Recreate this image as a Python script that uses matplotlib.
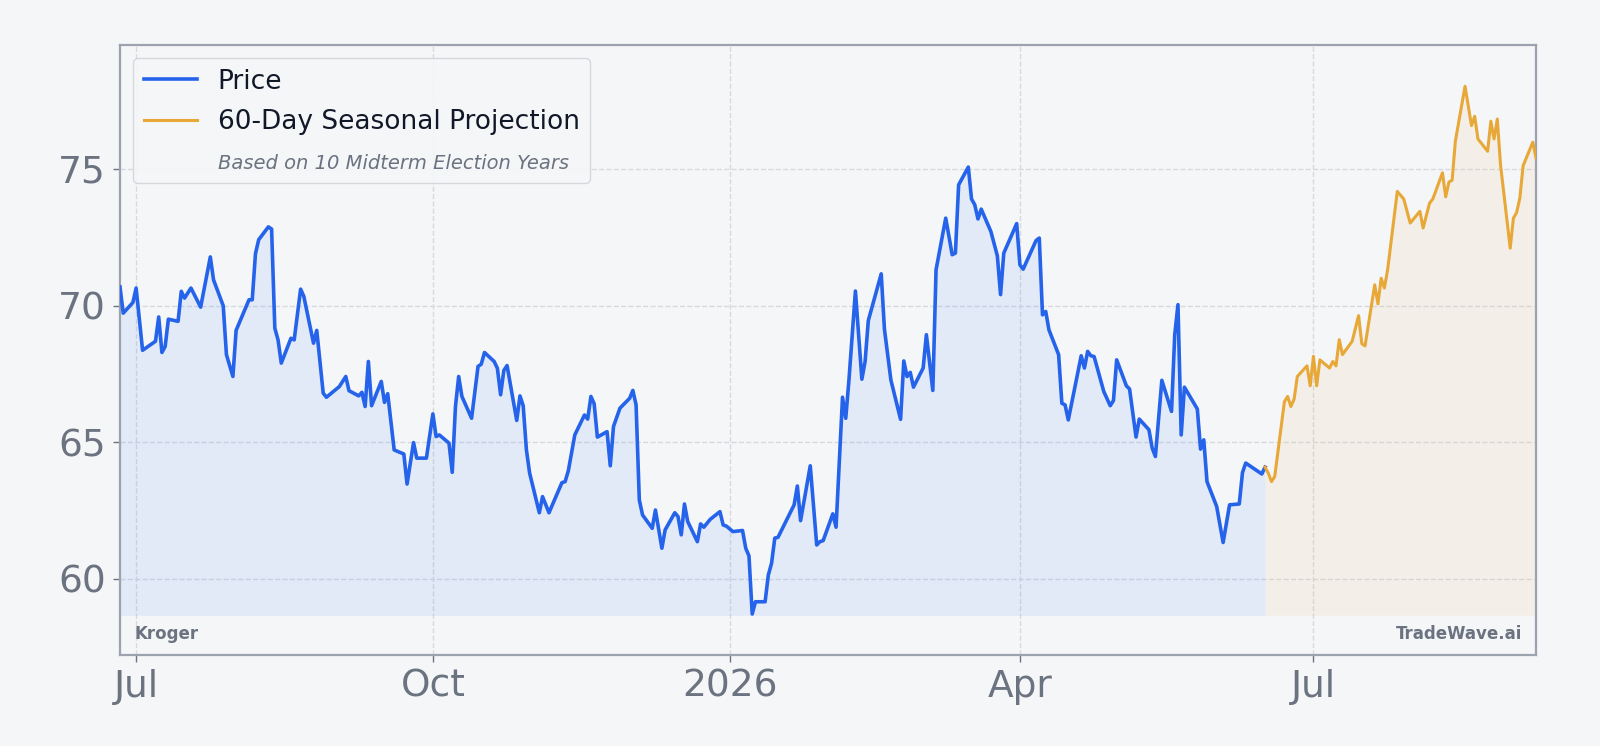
import matplotlib
matplotlib.use("Agg")
import matplotlib.pyplot as plt
import matplotlib.dates as mdates
from matplotlib.lines import Line2D
import pandas as pd

# price history
hist_dates = [
    "2025-06-26", "2025-06-27", "2025-06-30", "2025-07-01", "2025-07-03", "2025-07-07", "2025-07-08",
    "2025-07-09", "2025-07-10", "2025-07-11", "2025-07-14", "2025-07-15", "2025-07-16", "2025-07-18",
    "2025-07-21", "2025-07-24", "2025-07-25", "2025-07-28", "2025-07-29", "2025-07-31", "2025-08-01",
    "2025-08-05", "2025-08-06", "2025-08-07", "2025-08-08", "2025-08-11", "2025-08-12", "2025-08-13",
    "2025-08-14", "2025-08-15", "2025-08-18", "2025-08-19", "2025-08-21", "2025-08-22", "2025-08-25",
    "2025-08-26", "2025-08-28", "2025-08-29", "2025-09-02", "2025-09-04", "2025-09-05", "2025-09-08",
    "2025-09-09", "2025-09-10", "2025-09-11", "2025-09-12", "2025-09-15", "2025-09-16", "2025-09-17",
    "2025-09-19", "2025-09-22", "2025-09-23", "2025-09-25", "2025-09-26", "2025-09-29", "2025-10-01",
    "2025-10-02", "2025-10-03", "2025-10-06", "2025-10-07", "2025-10-08", "2025-10-09", "2025-10-10",
    "2025-10-13", "2025-10-15", "2025-10-16", "2025-10-17", "2025-10-20", "2025-10-21", "2025-10-22",
    "2025-10-23", "2025-10-24", "2025-10-27", "2025-10-28", "2025-10-29", "2025-10-30", "2025-10-31",
    "2025-11-03", "2025-11-04", "2025-11-06", "2025-11-10", "2025-11-11", "2025-11-12", "2025-11-14",
    "2025-11-17", "2025-11-18", "2025-11-19", "2025-11-20", "2025-11-21", "2025-11-24", "2025-11-25",
    "2025-11-26", "2025-11-28", "2025-12-01", "2025-12-02", "2025-12-03", "2025-12-04", "2025-12-05",
    "2025-12-08", "2025-12-09", "2025-12-11", "2025-12-12", "2025-12-15", "2025-12-16", "2025-12-17",
    "2025-12-18", "2025-12-19", "2025-12-22", "2025-12-23", "2025-12-24", "2025-12-26", "2025-12-29",
    "2025-12-30", "2025-12-31", "2026-01-02", "2026-01-05", "2026-01-06", "2026-01-07", "2026-01-08",
    "2026-01-09", "2026-01-12", "2026-01-13", "2026-01-14", "2026-01-15", "2026-01-16", "2026-01-21",
    "2026-01-22", "2026-01-23", "2026-01-26", "2026-01-28", "2026-01-29", "2026-01-30", "2026-02-02",
    "2026-02-03", "2026-02-04", "2026-02-05", "2026-02-06", "2026-02-07", "2026-02-09", "2026-02-11",
    "2026-02-12", "2026-02-13", "2026-02-17", "2026-02-18", "2026-02-20", "2026-02-23", "2026-02-24",
    "2026-02-25", "2026-02-26", "2026-02-27", "2026-03-02", "2026-03-03", "2026-03-05", "2026-03-06",
    "2026-03-09", "2026-03-11", "2026-03-12", "2026-03-13", "2026-03-16", "2026-03-17", "2026-03-18",
    "2026-03-19", "2026-03-20", "2026-03-23", "2026-03-25", "2026-03-26", "2026-03-27", "2026-03-31",
    "2026-04-01", "2026-04-02", "2026-04-06", "2026-04-07", "2026-04-08", "2026-04-09", "2026-04-10",
    "2026-04-13", "2026-04-14", "2026-04-15", "2026-04-16", "2026-04-20", "2026-04-21", "2026-04-22",
    "2026-04-23", "2026-04-24", "2026-04-27", "2026-04-29", "2026-04-30", "2026-05-01", "2026-05-04",
    "2026-05-05", "2026-05-07", "2026-05-08", "2026-05-11", "2026-05-12", "2026-05-13", "2026-05-15",
    "2026-05-18", "2026-05-19", "2026-05-20", "2026-05-21", "2026-05-22", "2026-05-26", "2026-05-27",
    "2026-05-28", "2026-05-29", "2026-06-01", "2026-06-03", "2026-06-05", "2026-06-08", "2026-06-09",
    "2026-06-10", "2026-06-15", "2026-06-16",
]
hist_price = [
    70.68, 69.72, 70.11, 70.64, 68.36, 68.69, 69.58,
    68.28, 68.50, 69.50, 69.42, 70.52, 70.27, 70.64,
    69.94, 71.78, 70.94, 69.99, 68.20, 67.40, 69.09,
    70.21, 70.21, 71.90, 72.41, 72.88, 72.80, 69.17,
    68.74, 67.89, 68.80, 68.74, 70.60, 70.33, 68.62,
    69.09, 66.79, 66.64, 67.03, 67.40, 66.88, 66.69,
    66.82, 66.30, 67.95, 66.33, 67.22, 66.45, 66.77,
    64.71, 64.56, 63.46, 64.98, 64.41, 64.41, 66.03,
    65.20, 65.26, 64.96, 63.89, 66.30, 67.40, 66.67,
    65.87, 67.77, 67.85, 68.28, 67.95, 67.70, 66.73,
    67.62, 67.80, 65.79, 66.69, 66.33, 64.71, 63.86,
    62.41, 63.00, 62.41, 63.51, 63.55, 63.95, 65.26,
    65.99, 65.84, 66.67, 66.40, 65.18, 65.38, 64.13,
    65.57, 66.24, 66.60, 66.89, 66.36, 62.88, 62.33,
    61.84, 62.51, 61.11, 61.78, 62.41, 62.27, 61.60,
    62.73, 62.09, 61.35, 62.00, 61.88, 62.17, 62.45,
    61.96, 61.92, 61.72, 61.76, 61.11, 60.83, 58.70,
    59.15, 59.15, 60.13, 60.56, 61.48, 61.51, 62.70,
    63.39, 62.12, 64.13, 61.23, 61.35, 61.39, 62.37,
    61.88, 64.22, 66.64, 65.87, 67.28, 70.53, 67.30,
    67.95, 69.45, 71.16, 69.13, 67.27, 65.83, 67.97,
    67.40, 67.55, 67.01, 67.71, 68.93, 66.89, 71.31,
    73.20, 71.86, 71.92, 74.42, 75.07, 73.90, 73.69,
    73.17, 73.53, 72.71, 71.82, 70.40, 71.92, 73.00,
    71.49, 71.33, 72.38, 72.47, 69.66, 69.78, 69.11,
    68.20, 66.42, 66.36, 65.81, 68.16, 67.71, 68.32,
    68.16, 68.13, 66.85, 66.33, 66.52, 68.01, 67.06,
    66.94, 65.18, 65.84, 65.45, 64.78, 64.47, 67.26,
    66.12, 68.93, 70.03, 65.26, 67.01, 66.21, 64.74,
    65.08, 63.55, 62.64, 61.32, 62.70, 62.73, 63.88,
    64.23, 63.83, 64.08,
]

# 60-day seasonal projection
proj_dates = [
    "2026-06-16", "2026-06-17", "2026-06-18", "2026-06-19", "2026-06-22", "2026-06-23", "2026-06-24",
    "2026-06-25", "2026-06-26", "2026-06-29", "2026-06-30", "2026-07-01", "2026-07-02", "2026-07-03",
    "2026-07-06", "2026-07-07", "2026-07-08", "2026-07-09", "2026-07-10", "2026-07-13", "2026-07-15",
    "2026-07-16", "2026-07-17", "2026-07-20", "2026-07-21", "2026-07-22", "2026-07-23", "2026-07-24",
    "2026-07-27", "2026-07-29", "2026-07-31", "2026-08-03", "2026-08-04", "2026-08-06", "2026-08-07",
    "2026-08-10", "2026-08-11", "2026-08-12", "2026-08-13", "2026-08-14", "2026-08-17", "2026-08-19",
    "2026-08-20", "2026-08-21", "2026-08-24", "2026-08-25", "2026-08-26", "2026-08-27", "2026-08-28",
    "2026-08-31", "2026-09-01", "2026-09-02", "2026-09-03", "2026-09-04", "2026-09-07", "2026-09-08",
]
proj_price = [
    64.08, 63.86, 63.55, 63.74, 66.48, 66.67, 66.30,
    66.57, 67.40, 67.79, 67.06, 68.14, 67.06, 68.01,
    67.71, 67.95, 67.79, 68.75, 68.20, 68.69, 69.63,
    68.60, 68.52, 70.76, 70.06, 71.00, 70.64, 71.31,
    74.18, 73.90, 73.02, 73.45, 72.84, 73.75, 73.90,
    74.86, 73.98, 74.52, 74.59, 76.02, 78.03, 76.59,
    76.93, 76.10, 75.65, 76.75, 76.10, 76.83, 75.16,
    72.10, 73.20, 73.41, 73.94, 75.12, 75.98, 75.41,
]

company = "Kroger"
brand = "TradeWave.ai"

hd = pd.to_datetime(hist_dates)
pdates = pd.to_datetime(proj_dates)

bg = "#f5f6f8"
blue = "#2563eb"
orange = "#e8a838"
grey = "#6b7280"
fill_floor = 58.65

fig = plt.figure(figsize=(16, 7.46), dpi=100, facecolor=bg)
ax = fig.add_axes([0.075, 0.122, 0.885, 0.818])
ax.set_facecolor(bg)

ax.fill_between(hd, hist_price, fill_floor, color="#3b82f6", alpha=0.1, lw=0)
ax.fill_between(pdates, proj_price, fill_floor, color=orange, alpha=0.08, lw=0)
ax.plot(hd, hist_price, color=blue, lw=2.6, zorder=3)
ax.plot(pdates, proj_price, color=orange, lw=2.2, zorder=3)

ax.set_xlim(hd[0], pdates[-1])
ax.set_ylim(57.2, 79.55)
ax.set_yticks([60, 65, 70, 75])

ax.xaxis.set_major_locator(mdates.MonthLocator(bymonth=(1, 4, 7, 10)))
ax.xaxis.set_major_formatter(plt.FuncFormatter(
    lambda v, p: mdates.num2date(v).strftime("%Y" if mdates.num2date(v).month == 1 else "%b")))

ax.grid(True, color="#d6d9de", linestyle="--", linewidth=1)
ax.set_axisbelow(True)
ax.tick_params(axis="both", labelsize=27, colors=grey, length=5, width=1, pad=5)
for tl in ax.get_xticklabels() + ax.get_yticklabels():
    tl.set_color(grey)
for s in ax.spines.values():
    s.set_color("#9ca3af")
    s.set_linewidth(1.6)

handles = [
    Line2D([], [], color=blue, lw=2.6),
    Line2D([], [], color=orange, lw=2.2),
    Line2D([], [], color="none"),
]
labels = ["Price", "60-Day Seasonal Projection", "Based on 10 Midterm Election Years"]
leg = ax.legend(handles, labels, loc="upper left", fontsize=19, frameon=True,
                facecolor=bg, edgecolor="#d1d5db", framealpha=0.9,
                borderpad=0.4, labelspacing=0.56, handletextpad=0.8,
                bbox_to_anchor=(0.0, 1.0))
for t in leg.get_texts():
    t.set_color("#111827")
sub = leg.get_texts()[2]
sub.set_fontsize(14)
sub.set_fontstyle("italic")
sub.set_color(grey)

ax.text(0.01, 0.034, company, transform=ax.transAxes, fontsize=12, fontweight="bold",
        color=grey, va="center", ha="left")
ax.text(0.99, 0.034, brand, transform=ax.transAxes, fontsize=12, fontweight="bold",
        color=grey, va="center", ha="right")

fig.savefig("out.png", dpi=100, facecolor=bg)
